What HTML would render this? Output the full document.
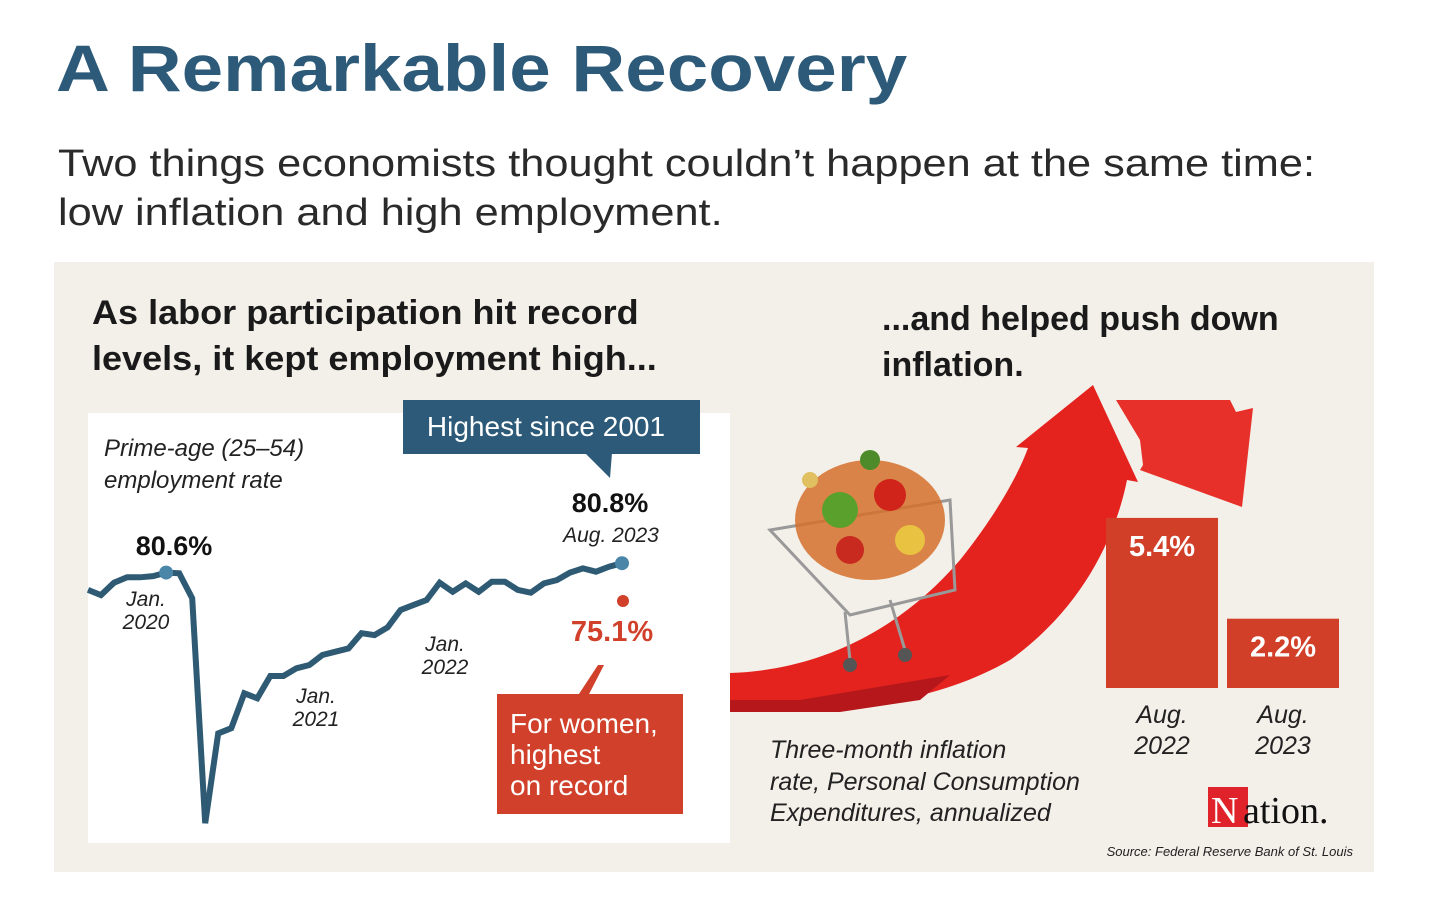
<!DOCTYPE html>
<html><head><meta charset="utf-8"><style>
html,body{margin:0;padding:0;background:#fff;}
body{width:1440px;height:907px;position:relative;overflow:hidden;font-family:"Liberation Sans",sans-serif;}
.abs{position:absolute;}
</style></head><body>
<div class="abs" style="left:56px;top:30px;font-size:66px;font-weight:bold;color:#2c5a78;white-space:nowrap;transform:scaleX(1.13);transform-origin:0 0;">A Remarkable Recovery</div>
<div class="abs" style="left:58px;top:140px;font-size:38px;line-height:49px;color:#2a2a2a;white-space:nowrap;transform:scaleX(1.14);transform-origin:0 0;">Two things economists thought couldn’t happen at the same time:<br>low inflation and high employment.</div>
<div class="abs" style="left:54px;top:262px;width:1320px;height:610px;background:#f3efe9;"></div>
<div class="abs" style="left:92px;top:290px;font-size:34px;line-height:46px;font-weight:bold;color:#1a1a1a;white-space:nowrap;transform:scaleX(1.06);transform-origin:0 0;">As labor participation hit record<br>levels, it kept employment high...</div>
<div class="abs" style="left:882px;top:296px;font-size:34px;line-height:46px;font-weight:bold;color:#1a1a1a;white-space:nowrap;transform:scaleX(1.0);transform-origin:0 0;">...and helped push down<br>inflation.</div>
<div class="abs" style="left:88px;top:413px;width:642px;height:430px;background:#fff;"></div>
<svg class="abs" style="left:0;top:0" width="1440" height="907">
 <g id="line-layer"></g>
 <rect x="403" y="400" width="297" height="54" fill="#2c5a78"/>
 <polygon points="585,453 612,453 610,478" fill="#2c5a78"/>
 <text x="546" y="436" font-size="28" fill="#fff" text-anchor="middle" font-family="Liberation Sans">Highest since 2001</text>
 <path d="M730,673 C820,670 900,630 960,560 C1000,510 1020,470 1028,448 L1016,447 L1093,385 L1138,482 L1127,480 C1115,540 1080,610 1010,660 C940,700 860,712 730,712 Z" fill="#e4231f"/>
 <polygon points="730,700 800,700 860,690 950,675 920,700 840,712 730,712" fill="#b5171a"/>
 <polygon points="1116,400 1230,400 1236,412 1253,408 1242,507 1140,470 1143,465 1140,440" fill="#e8302a"/>
 <g>
  <polygon points="770,530 950,500 955,590 850,615" fill="none" stroke="#999" stroke-width="3"/>
  <line x1="845" y1="612" x2="850" y2="660" stroke="#999" stroke-width="3"/>
  <line x1="890" y1="600" x2="905" y2="650" stroke="#999" stroke-width="3"/>
  <circle cx="850" cy="665" r="7" fill="#555"/><circle cx="905" cy="655" r="7" fill="#555"/>
  <ellipse cx="870" cy="520" rx="75" ry="60" fill="#d5702c" opacity="0.85"/>
  <circle cx="840" cy="510" r="18" fill="#5aa02c"/><circle cx="890" cy="495" r="16" fill="#d0241a"/>
  <circle cx="910" cy="540" r="15" fill="#e8c240"/><circle cx="850" cy="550" r="14" fill="#c92a1f"/>
  <circle cx="870" cy="460" r="10" fill="#4c8a2a"/><circle cx="810" cy="480" r="8" fill="#e0c060"/>
 </g>
 <g id="bar-layer"></g>
 <circle cx="623" cy="601" r="6" fill="#d0402a"/>
 <text x="612" y="641" font-size="29" font-weight="bold" fill="#d0402a" text-anchor="middle">75.1%</text>
 <polygon points="598,665 604,665 586,700 575,700" fill="#d0402a"/>
 <rect x="497" y="694" width="186" height="120" fill="#d0402a"/>
 <text font-size="28" fill="#fff"><tspan x="510" y="733">For women,</tspan><tspan x="510" y="764">highest</tspan><tspan x="510" y="795">on record</tspan></text>
 <text font-size="24" font-style="italic" fill="#222"><tspan x="104" y="456">Prime-age (25–54)</tspan><tspan x="104" y="488">employment rate</tspan></text>
 <text x="174" y="555" font-size="27" font-weight="bold" fill="#111" text-anchor="middle">80.6%</text>
 <text x="610" y="512" font-size="27" font-weight="bold" fill="#111" text-anchor="middle">80.8%</text>
 <text x="611" y="542" font-size="21" font-style="italic" fill="#222" text-anchor="middle">Aug. 2023</text>
 <g font-size="21" font-style="italic" fill="#222" text-anchor="middle">
  <text x="146" y="606">Jan.</text><text x="146" y="629">2020</text>
  <text x="316" y="703">Jan.</text><text x="316" y="726">2021</text>
  <text x="445" y="651">Jan.</text><text x="445" y="674">2022</text>
 </g>
 <g font-size="25" font-style="italic" fill="#222" text-anchor="middle">
  <text x="1162" y="723">Aug.</text><text x="1162" y="754">2022</text>
  <text x="1283" y="723">Aug.</text><text x="1283" y="754">2023</text>
 </g>
 <text font-size="25" font-style="italic" fill="#222"><tspan x="770" y="758">Three-month inflation</tspan><tspan x="770" y="790">rate, Personal Consumption</tspan><tspan x="770" y="821">Expenditures, annualized</tspan></text>
 <rect x="1208" y="787" width="40" height="40" fill="#e0222a"/>
 <text x="1211" y="823" font-size="38" font-family="Liberation Serif" fill="#fff">N</text>
 <text x="1243" y="823" font-size="38" font-family="Liberation Serif" fill="#111">ation.</text>
 <text x="1353" y="856" font-size="13" font-style="italic" fill="#222" text-anchor="end">Source: Federal Reserve Bank of St. Louis</text>
</svg>
<script>
const employmentValues=[79.65,79.43,79.96,80.19,80.19,80.24,80.39,80.36,79.29,69.68,73.52,73.74,75.23,75.02,75.97,75.97,76.30,76.44,76.87,77.01,77.15,77.80,77.72,78.05,78.79,79.01,79.22,79.96,79.57,79.93,79.57,80.00,80.00,79.65,79.53,79.93,80.07,80.39,80.57,80.43,80.64,80.79];
const barCategories=["Aug. 2022","Aug. 2023"];
const barValues=[5.4,2.2];
const barLabels=["5.4%","2.2%"];
const NS="http://www.w3.org/2000/svg";
function xLine(i){return 88+i*(622-88)/(employmentValues.length-1);}
function yLine(v){return 563+(80.8-v)*23.4;}
const ll=document.getElementById('line-layer');
const pl=document.createElementNS(NS,'polyline');
pl.setAttribute('points',employmentValues.map((v,i)=>xLine(i).toFixed(1)+','+yLine(v).toFixed(1)).join(' '));
pl.setAttribute('fill','none');pl.setAttribute('stroke','#2e5a73');pl.setAttribute('stroke-width','6');pl.setAttribute('stroke-linejoin','miter');


ll.appendChild(pl);
[6,employmentValues.length-1].forEach(i=>{
 const c=document.createElementNS(NS,'circle');
 c.setAttribute('cx',xLine(i));c.setAttribute('cy',yLine(employmentValues[i]));c.setAttribute('r','7');c.setAttribute('fill','#4a86a8');
 
 
 ll.appendChild(c);
});
const bl=document.getElementById('bar-layer');
function yBar(v){return 688-v*31.5;}
barValues.forEach((v,i)=>{
 const x=1106+i*121;
 const r=document.createElementNS(NS,'rect');
 r.setAttribute('x',x);r.setAttribute('y',yBar(v));r.setAttribute('width',112);r.setAttribute('height',688-yBar(v));r.setAttribute('fill','#d13f29');
 
 
 bl.appendChild(r);
 const t=document.createElementNS(NS,'text');
 t.setAttribute('x',x+56);t.setAttribute('y',yBar(v)+38);t.setAttribute('text-anchor','middle');t.setAttribute('font-size','29');t.setAttribute('font-weight','bold');t.setAttribute('fill','#fff');
 t.textContent=barLabels[i];
 
 
 bl.appendChild(t);
});
</script>
</body></html>
